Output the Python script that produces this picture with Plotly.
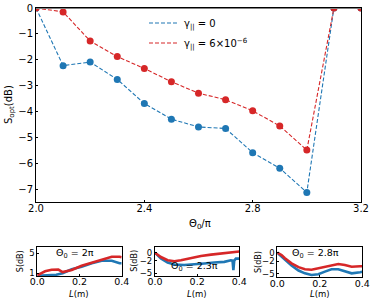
import plotly.graph_objects as go

# ---- main panel data ----
theta = [2.0, 2.1, 2.2, 2.3, 2.4, 2.5, 2.6, 2.7, 2.8, 2.9, 3.0, 3.1, 3.2]
s_gamma0 = [0, -2.22, -2.08, -2.75, -3.68, -4.28, -4.58, -4.64, -5.57, -6.17, -7.1, 0, 0]
s_gamma6 = [0, -0.15, -1.27, -1.87, -2.33, -2.84, -3.28, -3.53, -3.96, -4.54, -5.47, 0, 0]
x_ticks = [2.0, 2.4, 2.8, 3.2]
y_ticks = [0, -1, -2, -3, -4, -5, -6, -7]

# ---- inset panels data ----
L1_red = [0, 0.037, 0.068, 0.1, 0.12, 0.163, 0.21, 0.258, 0.305, 0.353, 0.39, 0.4]
S1_red = [0.6, 1.4, 1.7, 1.75, 1.25, 1.65, 2.5, 3.1, 3.65, 4.3, 4.3, 4.2]
L1_blue = [0, 0.05, 0.09, 0.12, 0.163, 0.21, 0.258, 0.305, 0.353, 0.39, 0.4]
S1_blue = [0.5, 0.55, 0.7, 1.0, 1.8, 2.3, 3.0, 3.5, 3.5, 3.0, 3.0]

L2_red = [0, 0.028, 0.06, 0.092, 0.123, 0.171, 0.218, 0.266, 0.313, 0.36, 0.392, 0.4]
S2_red = [0, -1.05, -1.83, -2.07, -1.83, -1.28, -0.8, -0.48, -0.16, 0.15, 0.3, 0.3]
L2_blue = [0, 0.028, 0.06, 0.092, 0.139, 0.187, 0.234, 0.281, 0.329, 0.36, 0.368, 0.372, 0.376, 0.384, 0.4]
S2_blue = [0, -1.43, -2.38, -2.86, -3.0, -2.86, -2.62, -2.38, -2.22, -1.83, -1.9, -4.2, -1.9, -1.43, -1.43]

L3 = [0, 0.02, 0.036, 0.067, 0.1, 0.13, 0.161, 0.193, 0.224, 0.255, 0.287, 0.318, 0.35, 0.39, 0.4]
S3_red = [0, -0.55, -1.3, -2.5, -3.4, -3.9, -4.0, -3.7, -3.3, -3.0, -2.65, -2.9, -3.3, -3.2, -3.2]
S3_blue = [0, -0.9, -1.7, -3.0, -4.2, -4.85, -5.25, -5.05, -4.45, -3.9, -3.9, -4.3, -4.85, -4.6, -4.5]

inset_x_ticks = [0.0, 0.2, 0.4]
inset_titles = ["Θ<sub>0</sub> = 2π", "Θ<sub>0</sub> = 2.3π", "Θ<sub>0</sub> = 2.8π"]

BLUE = "#1f77b4"
RED = "#d62728"
FONT = "DejaVu Sans"
W, H = 374, 302

fig = go.Figure()

fig.add_trace(go.Scatter(x=theta, y=s_gamma0, mode="lines", legendgroup="a",
                         line=dict(color=BLUE, width=1.1, dash="4px,2px"),
                         name="γ<sub>||</sub> = 0"))
fig.add_trace(go.Scatter(x=theta, y=s_gamma6, mode="lines", legendgroup="b",
                         line=dict(color=RED, width=1.1, dash="4px,2px"),
                         name="γ<sub>||</sub> = 6×10<sup>−6</sup>"))
fig.add_trace(go.Scatter(x=theta, y=s_gamma0, mode="markers", legendgroup="a",
                         marker=dict(color=BLUE, size=7), showlegend=False))
fig.add_trace(go.Scatter(x=theta, y=s_gamma6, mode="markers", legendgroup="b",
                         marker=dict(color=RED, size=7), showlegend=False))

insets = [
    (L1_red, S1_red, L1_blue, S1_blue),
    (L2_red, S2_red, L2_blue, S2_blue),
    (L3, S3_red, L3, S3_blue),
]
for i, (lr, sr, lb, sb) in enumerate(insets, start=2):
    fig.add_trace(go.Scatter(x=lb, y=sb, mode="lines", line=dict(color=BLUE, width=2.6),
                             showlegend=False, xaxis=f"x{i}", yaxis=f"y{i}"))
    fig.add_trace(go.Scatter(x=lr, y=sr, mode="lines", line=dict(color=RED, width=2.6),
                             showlegend=False, xaxis=f"x{i}", yaxis=f"y{i}"))

axis_common = dict(showline=True, linecolor="black", linewidth=1, mirror=True,
                   showgrid=False, zeroline=False, ticks="inside", ticklen=2,
                   tickcolor="black", automargin=False)
main_tickfont = dict(family=FONT, size=10, color="black")
inset_xtickfont = dict(family=FONT, size=9.5, color="black")
inset_ytickfont = dict(family=FONT, size=8.5, color="black")

fig.update_layout(
    width=W, height=H, margin=dict(l=0, r=0, t=0, b=0),
    plot_bgcolor="white", paper_bgcolor="white",
    font=dict(family=FONT, size=10, color="black"),
    xaxis=dict(domain=[0.0963, 0.9652], range=[2.0, 3.2], tickvals=x_ticks,
               tickformat=".1f", ticklabelstandoff=-3, tickfont=main_tickfont, **axis_common),
    yaxis=dict(domain=[0.332, 0.9735], range=[-7.46, 0], tickvals=y_ticks,
               tickfont=main_tickfont, **axis_common),
    legend=dict(x=0.385, y=0.972, xanchor="left", yanchor="top",
                bgcolor="rgba(0,0,0,0)", font=dict(family=FONT, size=10),
                tracegroupgap=1, itemwidth=30),
)

inset_dom_x = [[0.0997, 0.3254], [0.4144, 0.6398], [0.7414, 0.9687]]
inset_dom_y = [[0.0861, 0.1811], [0.0861, 0.1831], [0.0818, 0.1831]]
inset_y_range = [[0.45, 6.2], [-5.65, 1.45], [-5.78, 1.4]]
inset_y_ticks = [[1, 5], [0, -2, -5], [0, -2, -5]]
inset_ylab_x = [20.5, 134.5, 258]
for k in range(3):
    i = k + 2
    fig.layout[f"xaxis{i}"] = dict(domain=inset_dom_x[k], range=[0, 0.4], tickvals=inset_x_ticks,
                                   tickformat=".1f", anchor=f"y{i}", ticklabelstandoff=-3,
                                   tickfont=inset_xtickfont, **axis_common)
    fig.layout[f"yaxis{i}"] = dict(domain=inset_dom_y[k], range=inset_y_range[k],
                                   tickvals=inset_y_ticks[k], anchor=f"x{i}",
                                   tickfont=inset_ytickfont, **axis_common)
    fig.add_annotation(x=sum(inset_dom_x[k]) / 2, y=1 - 293.5 / H, xref="paper", yref="paper",
                       text="<i>L</i>(m)", showarrow=False, xanchor="center", yanchor="middle",
                       font=dict(family=FONT, size=8.5))
    fig.add_annotation(x=inset_ylab_x[k] / W, y=sum(inset_dom_y[k]) / 2, xref="paper", yref="paper",
                       text="S(dB)", showarrow=False, textangle=-90, xanchor="center",
                       yanchor="middle", font=dict(family=FONT, size=8))

fig.add_annotation(x=200 / W, y=1 - 224 / H, xref="paper", yref="paper",
                   text="Θ<sub>0</sub>/π", showarrow=False, xanchor="center", yanchor="middle",
                   font=dict(family=FONT, size=10))
fig.add_annotation(x=9 / W, y=1 - 105 / H, xref="paper", yref="paper",
                   text="S<sub>opt</sub>(dB)", showarrow=False, textangle=-90,
                   xanchor="center", yanchor="middle", font=dict(family=FONT, size=10))

fig.add_shape(type="line", xref="x domain", yref="y", x0=0, x1=1, y0=0, y1=0,
              line=dict(color="#808080", width=2))

inset_text_pos = [(0.18, 5.0), (0.187, -3.4), (0.18, -0.1)]
for k in range(3):
    i = k + 2
    fig.add_annotation(x=inset_text_pos[k][0], y=inset_text_pos[k][1], xref=f"x{i}", yref=f"y{i}",
                       text=inset_titles[k], showarrow=False,
                       font=dict(family=FONT, size=9.5, color="black"))

fig.write_html("out.html", config={"displayModeBar": False},
               post_script="document.body.style.margin='0';document.body.style.overflow='hidden';")
